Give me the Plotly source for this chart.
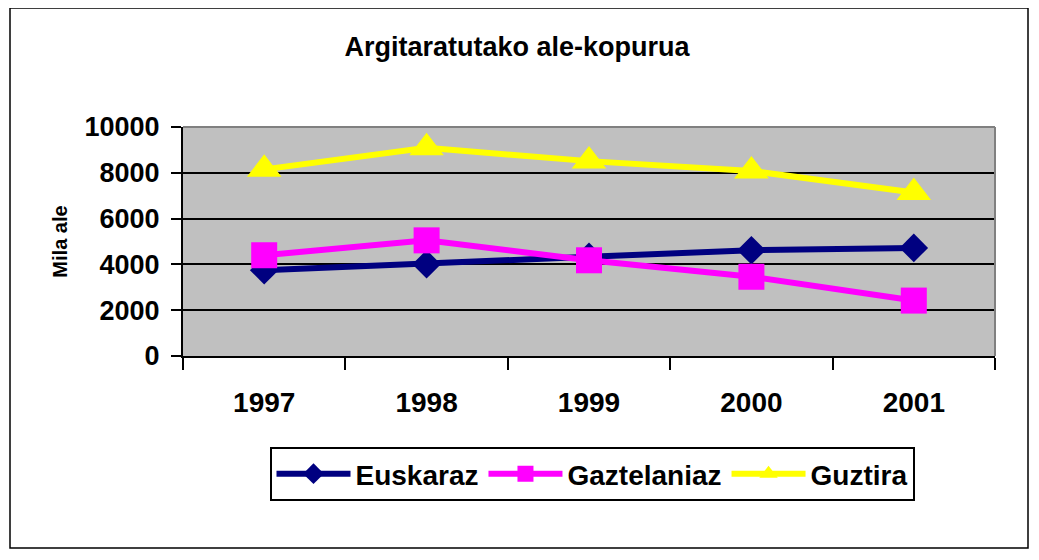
import plotly.graph_objects as go

years = ["1997", "1998", "1999", "2000", "2001"]
euskaraz = [3750, 4010, 4330, 4620, 4720]
gaztelaniaz = [4400, 5050, 4180, 3460, 2420]
guztira = [8150, 9090, 8510, 8080, 7140]

FONT = "Liberation Sans, Arial, sans-serif"
OFF = 8  # page body margin

fig = go.Figure()
fig.add_trace(go.Scatter(x=years, y=euskaraz, name="Euskaraz", mode="lines+markers",
                         line=dict(color="#000080", width=6),
                         marker=dict(symbol="diamond", size=22, color="#000080")))
fig.add_trace(go.Scatter(x=years, y=gaztelaniaz, name="Gaztelaniaz", mode="lines+markers",
                         line=dict(color="#FF00FF", width=6),
                         marker=dict(symbol="square", size=26, color="#FF00FF")))
fig.add_trace(go.Scatter(x=years, y=guztira, name="Guztira", mode="lines+markers",
                         line=dict(color="#FFFF00", width=6),
                         marker=dict(symbol="triangle-up", size=30, color="#FFFF00")))

L, R, T, B = 183 - OFF, 995 - OFF, 127 - OFF, 356 - OFF
W, H = 1039 - OFF, 560 - OFF
pw, ph = R - L, B - T

def px(x):
    return (x - OFF - L) / pw

def py(y):
    return (B - (y - OFF)) / ph

fig.update_layout(
    width=W, height=H,
    margin=dict(l=L, r=W - R, t=T, b=H - B, autoexpand=False),
    paper_bgcolor="white",
    plot_bgcolor="#C0C0C0",
    font=dict(family=FONT, color="black"),
    title=dict(text="Argitaratutako ale-kopurua", x=(517 - OFF) / W, xanchor="center",
               y=1 - (47 - OFF) / H, yanchor="middle", yref="container",
               font=dict(size=27, weight="bold", family=FONT)),
    showlegend=True,
    legend=dict(orientation="h", x=px(592), xanchor="center", y=py(447), yanchor="top",
                bordercolor="black", borderwidth=2, bgcolor="white",
                font=dict(size=28, weight="bold", family=FONT),
                itemwidth=74, itemsizing="trace", tracegroupgap=0),
    xaxis=dict(type="category", range=[-0.5, 4.5], showgrid=False, showline=True,
               linecolor="black", linewidth=2,
               ticks="outside", tickson="boundaries", ticklen=12, tickwidth=1.5, tickcolor="black",
               tickfont=dict(size=28, weight="bold", family=FONT), ticklabelstandoff=20,
               zeroline=False, fixedrange=True),
    yaxis=dict(range=[0, 10000], dtick=2000, tickformat="d", showgrid=True, gridcolor="black", gridwidth=2,
               showline=True, linecolor="black", linewidth=2,
               ticks="outside", ticklen=10, tickwidth=1.5, tickcolor="black",
               tickfont=dict(size=27, weight="bold", family=FONT), ticklabelstandoff=6,
               title=dict(text="Mila ale", font=dict(size=20, weight="bold", family=FONT), standoff=12),
               zeroline=False, fixedrange=True),
    shapes=[
        dict(type="line", xref="paper", yref="paper", x0=0, x1=1, y0=1, y1=1,
             line=dict(color="#808080", width=2)),
        dict(type="line", xref="paper", yref="paper", x0=1, x1=1, y0=0, y1=1,
             line=dict(color="#808080", width=2)),
        dict(type="rect", xref="paper", yref="paper", x0=px(10), x1=px(1028), y0=py(548), y1=py(8),
             line=dict(color="black", width=1.5), fillcolor="rgba(0,0,0,0)", layer="below"),
    ],
)

fig.write_html("out.html")
